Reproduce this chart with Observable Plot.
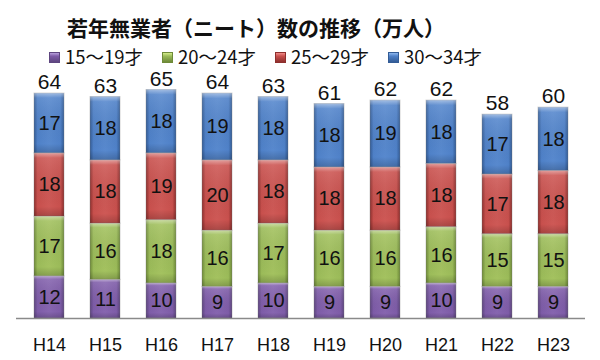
<!DOCTYPE html>
<html><head><meta charset="utf-8">
<script src="https://cdn.jsdelivr.net/npm/d3@7"></script>
<script src="https://cdn.jsdelivr.net/npm/@observablehq/plot@0.6"></script>
<style>
body{margin:0;background:#fff;font-family:"Noto Sans CJK JP","Noto Sans",sans-serif;}
#wrap{width:600px;height:360px;position:relative;overflow:hidden;}
#title{position:absolute;left:0;top:12px;width:512px;text-align:center;font-size:21px;font-weight:bold;color:#111;line-height:30px;}
#legend{position:absolute;top:45px;left:0;width:600px;height:22px;font-size:18.5px;color:#111;}
.li{position:absolute;top:0;line-height:22px;white-space:nowrap;}
.sw{display:inline-block;width:11px;height:11px;margin-right:5px;vertical-align:middle;position:relative;top:-1px;}
#chart{position:absolute;left:0;top:70px;}
</style></head>
<body><div id="wrap">
<div id="title">若年無業者（ニート）数の推移（万人）</div>
<div id="legend"></div>
<div id="chart"></div>
</div>
<script>
const years = ["H14","H15","H16","H17","H18","H19","H20","H21","H22","H23"];
const seriesNames = ["15～19才","20～24才","25～29才","30～34才"];
const age15 = [12,11,10,9,10,9,9,10,9,9];
const age20 = [17,16,18,16,17,16,16,16,15,15];
const age25 = [18,18,19,20,18,18,18,18,17,18];
const age30 = [17,18,18,19,18,18,19,18,17,18];
const totals = [64,63,65,64,63,61,62,62,58,60];
const mainColors = ["#7E5CA8","#9BBB59","#C8504D","#4F81C8"];
const darkColors = ["#5E4680","#6E8A38","#8E2F2D","#335C96"];
const lightColors = ["#B8A0DC","#D4EC8A","#F08A88","#8EB8EE"];
const numFont = '"Liberation Sans",Arial,sans-serif';

const seriesVals = [age15, age20, age25, age30];
const rows = [];
seriesVals.forEach((vals, si) => vals.forEach((v, i) => rows.push({year: years[i], series: seriesNames[si], value: v})));
const totalRows = years.map((y, i) => ({year: y, total: totals[i]}));

// legend
const leg = document.getElementById("legend");
const legX = [49, 162, 275, 388];
seriesNames.forEach((n, i) => {
  const d = document.createElement("div");
  d.className = "li"; d.style.left = legX[i] + "px";
  d.innerHTML = `<span class="sw" style="background:linear-gradient(to bottom, ${lightColors[i]} 0%, ${mainColors[i]} 35%, ${darkColors[i]} 100%);border:1px solid ${darkColors[i]};box-sizing:border-box"></span>${n}`;
  leg.appendChild(d);
});

const fills = seriesNames.map((_, i) => `url(#grad${i})`);
const hasAxisMark = typeof Plot.axisX === "function";
const marks = [
  Plot.barY(rows, Plot.stackY({x: "year", y: "value", fill: "series", order: seriesNames, stroke: "#777", strokeOpacity: 0.35, strokeWidth: 1})),
  Plot.barY(rows, Plot.stackY({x: "year", y: "value", z: "series", order: seriesNames, fill: "url(#bevel)"})),
  Plot.text(rows, Plot.stackY({x: "year", y: "value", z: "series", order: seriesNames, text: d => String(d.value), fontSize: 20, fontFamily: numFont, fill: "#111"})),
  Plot.text(totalRows, {x: "year", y: "total", text: d => String(d.total), dy: -11, fontSize: 21, fontFamily: numFont, fill: "#111"}),
  Plot.ruleY([0], {stroke: "#8a8a8a", strokeWidth: 1.5})
];
if (hasAxisMark) marks.push(Plot.axisX({tickSize: 0, tickPadding: 20, fontSize: 18, fontFamily: numFont, fill: "#111", label: null}));
const chart = Plot.plot({
  width: 600, height: 290,
  marginTop: 2, marginBottom: 42, marginLeft: 16, marginRight: 15,
  style: {fontFamily: '"Noto Sans CJK JP","Noto Sans",sans-serif', overflow: "visible"},
  x: {domain: years, paddingInner: 0.47, paddingOuter: 0.235, label: null, tickSize: 0, tickPadding: 20, ...(hasAxisMark ? {axis: null} : {})},
  y: {domain: [0, 70], axis: null},
  color: {domain: seriesNames, range: fills},
  marks
});
d3.select(chart).selectAll("[aria-label^='x-axis'] text")
  .style("font-size", "18px").style("font-family", numFont).attr("fill", "#111");
const defs = d3.select(chart).insert("defs", ":first-child");
mainColors.forEach((c, i) => {
  const g = defs.append("linearGradient").attr("id", `grad${i}`).attr("x1", 0).attr("x2", 1).attr("y1", 0).attr("y2", 0);
  g.append("stop").attr("offset", "0%").attr("stop-color", darkColors[i]);
  g.append("stop").attr("offset", "12%").attr("stop-color", c);
  g.append("stop").attr("offset", "50%").attr("stop-color", d3.interpolateRgb(c, lightColors[i])(0.15));
  g.append("stop").attr("offset", "88%").attr("stop-color", c);
  g.append("stop").attr("offset", "100%").attr("stop-color", darkColors[i]);
});
const bev = defs.append("linearGradient").attr("id", "bevel").attr("x1", 0).attr("x2", 0).attr("y1", 0).attr("y2", 1);
bev.append("stop").attr("offset", "0%").attr("stop-color", "#fff").attr("stop-opacity", 0.45);
bev.append("stop").attr("offset", "8%").attr("stop-color", "#fff").attr("stop-opacity", 0.1);
bev.append("stop").attr("offset", "85%").attr("stop-color", "#000").attr("stop-opacity", 0);
bev.append("stop").attr("offset", "100%").attr("stop-color", "#000").attr("stop-opacity", 0.18);
document.getElementById("chart").appendChild(chart);
</script>
</body></html>
